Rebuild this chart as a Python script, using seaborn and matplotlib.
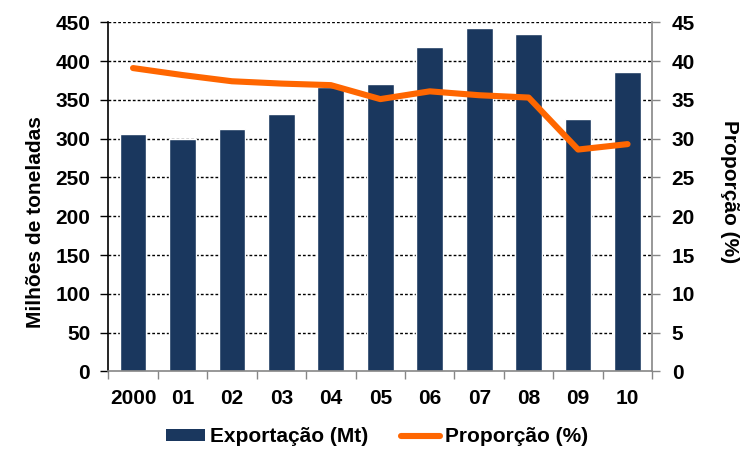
import numpy as np
import pandas as pd
import matplotlib
matplotlib.use("Agg")
import matplotlib.pyplot as plt
from matplotlib.patches import Patch
from matplotlib.lines import Line2D
import seaborn as sns

years = ["2000", "01", "02", "03", "04", "05", "06", "07", "08", "09", "10"]
exportacao = [306, 300, 313, 332, 367, 371, 418, 443, 435, 325, 386]
proporcao = [39.1, 38.2, 37.4, 37.1, 36.9, 35.1, 36.1, 35.6, 35.3, 28.6, 29.3]

df = pd.DataFrame({"ano": years, "exp": exportacao, "prop": proporcao})

sns.set_style("white")
plt.rcParams["font.family"] = ["Liberation Sans", "DejaVu Sans"]
plt.rcParams["font.weight"] = "bold"
plt.rcParams["text.color"] = "black"
plt.rcParams["xtick.labelcolor"] = "black"
plt.rcParams["ytick.labelcolor"] = "black"

navy = "#1A375E"
orange = "#FF6600"
gray = "#868686"
FS = 15

fig = plt.figure(figsize=(7.5, 4.69), dpi=100)
ax = fig.add_axes([0.1444, 0.2079, 0.7253, 0.7446])

sns.barplot(data=df, x="ano", y="exp", color=navy, width=0.54, saturation=1,
            ax=ax, zorder=2)
ax.set_ylim(0, 450)
ax.set_yticks(np.arange(0, 451, 50))
ax.set_xlim(-0.5, len(years) - 0.5)
ax.set_xlabel("")
ax.set_ylabel("")
for y in np.arange(50, 451, 50):
    ax.axhline(y, color="black", lw=1.0, ls=(0, (2, 1.5)), zorder=1)

ax2 = ax.twinx()
sns.pointplot(data=df, x="ano", y="prop", color=orange, markers="",
              linestyles="-", linewidth=4.4, ax=ax2, zorder=3)
ax2.set_ylim(0, 45)
ax2.set_yticks(np.arange(0, 46, 5))
ax2.set_xlim(-0.5, len(years) - 0.5)
ax2.set_xlabel("")
ax2.set_ylabel("")

# spines
for s in ["top"]:
    ax.spines[s].set_visible(False)
    ax2.spines[s].set_visible(False)
ax.spines["left"].set_color("black")
ax.spines["left"].set_linewidth(1.2)
ax.spines["bottom"].set_color(gray)
ax.spines["bottom"].set_linewidth(1.2)
ax.spines["right"].set_visible(False)
ax2.spines["left"].set_visible(False)
ax2.spines["bottom"].set_visible(False)
ax2.spines["right"].set_color(gray)
ax2.spines["right"].set_linewidth(1.2)

ax.tick_params(axis="y", which="major", left=True, direction="out", length=6,
               width=1, color="black", labelsize=FS, pad=7, labelcolor="black")
ax2.tick_params(axis="y", which="major", right=True, direction="out", length=6,
                width=1, color=gray, labelsize=FS, pad=8, labelcolor="black")
# x ticks at category boundaries
ax.set_xticks(np.arange(len(years)))
ax.set_xticklabels(years)
ax.tick_params(axis="x", which="major", bottom=False, labelsize=FS, pad=9,
               labelcolor="black")
ax.set_xticks(np.arange(-0.5, len(years), 1.0), minor=True)
ax.tick_params(axis="x", which="minor", bottom=True, direction="out", length=6,
               width=1, color=gray)
for lab in ax.get_xticklabels() + ax.get_yticklabels() + ax2.get_yticklabels():
    lab.set_fontweight("bold")

fig.text(0.047, 1 - 222 / 469, "Milhões de toneladas", rotation=90,
         ha="center", va="center", fontsize=FS, fontweight="bold", color="black")
fig.text(0.972, 1 - 192 / 469, "Proporção (%)", rotation=-90,
         ha="center", va="center", fontsize=FS, fontweight="bold", color="black")

handles = [Patch(facecolor=navy, edgecolor="none"),
           Line2D([0], [0], color=orange, lw=4.4, solid_capstyle="round")]
leg = fig.legend(handles, ["Exportação (Mt)", "Proporção (%)"], loc="center",
                 bbox_to_anchor=(0.503, 1 - 437 / 469), ncol=2, frameon=False,
                 prop={"size": FS, "weight": "bold"}, handlelength=1.85,
                 handleheight=0.45, handletextpad=0.25, columnspacing=1.6)
for t in leg.get_texts():
    t.set_color("black")

fig.savefig("out.png", dpi=100)
